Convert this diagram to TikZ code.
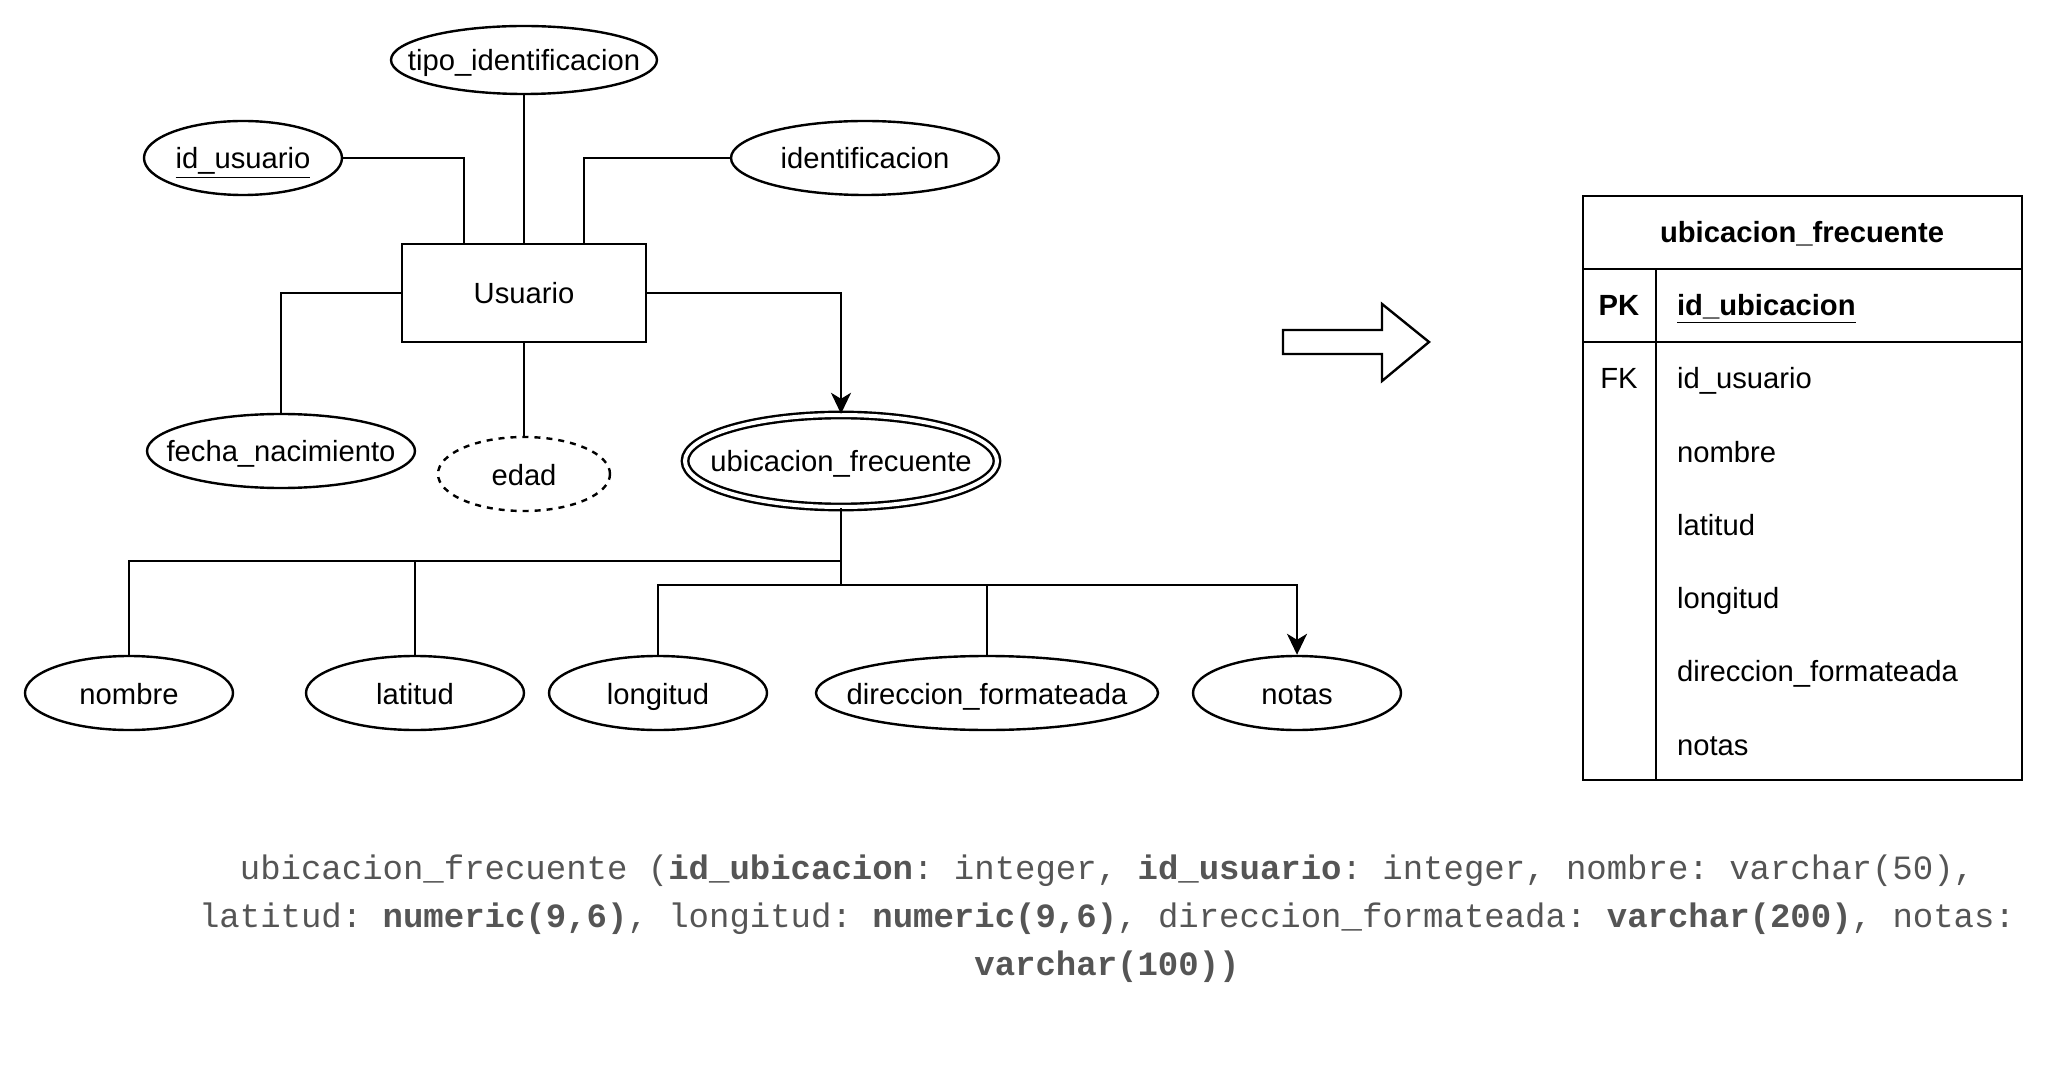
\documentclass[tikz,border=0pt]{standalone}
\usepackage{fontspec}
\setmainfont{Liberation Sans}
\setmonofont{Liberation Mono}
\usetikzlibrary{arrows.meta,shapes.geometric}
\definecolor{codegray}{RGB}{85,85,85}
\tikzset{attr/.style={draw,ellipse,line width=1.2pt,inner sep=0pt,minimum height=37pt,
    execute at begin node={\hbox to 0pt\bgroup\hss},execute at end node={\hss\egroup}},
  entity/.style={draw,rectangle,line width=1.2pt,minimum width=122pt,minimum height=49pt},
  link/.style={line width=1.2pt},
  tip/.style={-{Stealth[length=10.5pt,width=10pt,inset=3pt]}}}

\begin{document}
\begin{tikzpicture}[x=0.5pt,y=-0.5pt,font=\fontsize{14.6}{17}\selectfont,
    every node/.append style={text height=14pt,text depth=3pt}]
  \useasboundingbox (0,0) rectangle (2048,1079);
  % entidad y atributos
  \node[entity] (usuario) at (524,293) {Usuario};
  \node[attr,minimum width=133pt,minimum height=34pt] (tipo) at (524,60) {tipo\_identificacion};
  \node[attr,minimum width=99pt] (idu) at (243,158) {\underline{id\_usuario}};
  \node[attr,minimum width=134pt] (ident) at (865,158) {identificacion};
  \node[attr,minimum width=134pt] (fecha) at (281,451) {fecha\_nacimiento};
  \node[attr,dashed,minimum width=86pt] (edad) at (524,474) {edad};
  \node[attr,double,double distance=2pt,minimum width=156pt,minimum height=46pt] (ubic) at (841,461) {ubicacion\_frecuente};
  \node[attr,minimum width=104pt] (nombre) at (129,693) {nombre};
  \node[attr,minimum width=109pt] (latitud) at (415,693) {latitud};
  \node[attr,minimum width=109pt] (longitud) at (658,693) {longitud};
  \node[attr,minimum width=171pt] (direccion) at (987,693) {direccion\_formateada};
  \node[attr,minimum width=104pt] (notas) at (1297,693) {notas};
  \coordinate (j1) at (841,561);
  \coordinate (j2) at (841,585);

  \draw[link] (tipo) -- (usuario);
  \draw[link] (idu.east) -| ([xshift=-30pt]usuario.north);
  \draw[link] (ident.west) -| ([xshift=30pt]usuario.north);
  \draw[link] (usuario.west) -| (fecha.north);
  \draw[link] (usuario.south) -- (edad.north);
  \draw[link,tip] (usuario.east) -| (ubic.north);
  \draw[link] (ubic.south) -- (j2);
  \draw[link] (j1) -| (nombre.north);
  \draw[link] (j1) -| (latitud.north);
  \draw[link] (j2) -| (longitud.north);
  \draw[link] (j2) -| (direccion.north);
  \draw[link,tip] (j2) -| (notas.north);

  % flecha de paso
  \draw[line width=1.2pt] (1283,330) -- (1382,330) -- (1382,304) -- (1429,342)
    -- (1382,381) -- (1382,354) -- (1283,354) -- cycle;

  % tabla
  \draw[line width=1.2pt] (1583,196) rectangle (2022,780);
  \draw[line width=1.2pt] (1583,269) -- (2022,269);
  \draw[line width=1.2pt] (1583,342) -- (2022,342);
  \draw[line width=1.2pt] (1656,269) -- (1656,780);
  \node[font=\fontsize{14.6}{17}\selectfont\bfseries] (titulo) at (1802,232) {ubicacion\_frecuente};
  \node[font=\fontsize{14.6}{17}\selectfont\bfseries] (pk) at (1619,305) {PK};
  \node[anchor=west,font=\fontsize{14.6}{17}\selectfont\bfseries] (pkname) at (1670,305) {\underline{id\_ubicacion}};
  \node (fk) at (1619,378) {FK};
  \foreach \n/\t [count=\i from 0] in {fidu/id\_usuario,fnom/nombre,flat/latitud,flon/longitud,fdir/direccion\_formateada,fnot/notas}
    \node[anchor=west] (\n) at (1670,378+73.2*\i) {\t};

  % esquema relacional
  \node[align=center,text=codegray,text height=,text depth=,font=\fontsize{17}{24}\selectfont\ttfamily] (esquema) at (1107,919)
    {ubicacion\_frecuente (\textbf{id\_ubicacion}: integer, \textbf{id\_usuario}: integer, nombre: varchar(50),\\
     latitud: \textbf{numeric(9,6)}, longitud: \textbf{numeric(9,6)}, direccion\_formateada: \textbf{varchar(200)}, notas:\\
     \textbf{varchar(100))}};
\end{tikzpicture}
\end{document}
